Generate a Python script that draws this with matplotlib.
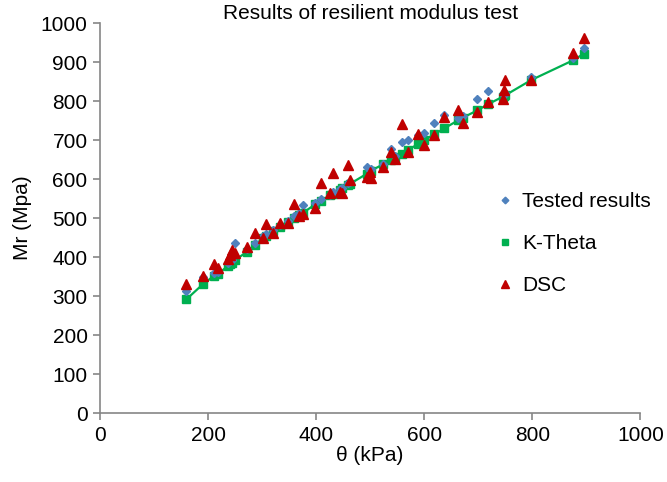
import matplotlib.pyplot as plt

plt.rcParams['font.family'] = ['Liberation Sans', 'DejaVu Sans']

# theta (kPa) for each test point
theta = [160, 190, 210, 218, 237, 241, 244, 250, 272, 287, 302, 307, 320, 333,
         348, 359, 369, 376, 398, 409, 426, 432, 444, 448, 459, 463, 494, 500,
         502, 524, 538, 546, 559, 570, 589, 600, 619, 637, 663, 672, 698, 718,
         745, 747, 750, 798, 876, 896]

# measured Mr (MPa)
tested = [313, 350, 360, 362, 385, 390, 392, 437, 420, 435, 455, 460, 470, 482,
          493, 505, 512, 533, 538, 548, 560, 566, 575, 578, 590, 592, 630, 623,
          625, 640, 677, 660, 695, 700, 713, 718, 743, 764, 758, 762, 805, 826,
          818, 816, 822, 862, 910, 936]

# K-Theta model
ktheta = [292, 330, 351, 356, 378, 382, 386, 392, 414, 431, 449, 454, 466, 478,
          491, 500, 508, 514, 535, 544, 558, 563, 573, 576, 585, 588, 614, 620,
          622, 638, 650, 656, 665, 675, 690, 700, 715, 730, 751, 758, 776, 792,
          811, 813, 815, 854, 905, 922]

# DSC model
dsc = [330, 352, 382, 372, 395, 405, 418, 410, 426, 461, 449, 485, 462, 487,
       487, 536, 505, 510, 526, 590, 564, 615, 567, 564, 636, 597, 605, 618,
       603, 631, 669, 651, 741, 669, 715, 687, 713, 759, 777, 744, 772, 797,
       805, 828, 854, 854, 923, 961]

FS = 15

fig = plt.figure(figsize=(6.67, 4.82), dpi=100)
ax = fig.add_axes([0.150, 0.143, 0.810, 0.809])

ax.plot(theta, ktheta, color='#00B050', lw=1.6, zorder=2)
ax.plot(theta, tested, 'D', color='#4F81BD', ms=4.5, mec='#4F81BD', ls='none',
        label='Tested results', zorder=3)
ax.plot(theta, ktheta, 's', color='#00B050', ms=6, ls='none',
        label='K-Theta', zorder=2)
ax.plot(theta, dsc, '^', color='#C00000', ms=7.5, ls='none',
        label='DSC', zorder=4)

ax.set_xlim(0, 1000)
ax.set_ylim(0, 1000)
ax.set_xticks(range(0, 1001, 200))
ax.set_yticks(range(0, 1001, 100))

for s in ['top', 'right']:
    ax.spines[s].set_visible(False)
for s in ['left', 'bottom']:
    ax.spines[s].set_color('#868686')
    ax.spines[s].set_linewidth(1.2)
ax.tick_params(direction='out', length=5, width=1.2, color='#868686',
               labelsize=FS, pad=4)

ax.set_xlabel('θ (kPa)', fontsize=FS, labelpad=1)
ax.set_ylabel('Mr (Mpa)', fontsize=FS, labelpad=6)
ax.set_title('Results of resilient modulus test', fontsize=FS, pad=1)

ax.legend(loc='center left', bbox_to_anchor=(0.70, 0.435), frameon=False,
          fontsize=FS, handletextpad=0.4, handlelength=0.8,
          labelspacing=1.1, markerscale=0.75)

fig.savefig('out.png', dpi=100)
